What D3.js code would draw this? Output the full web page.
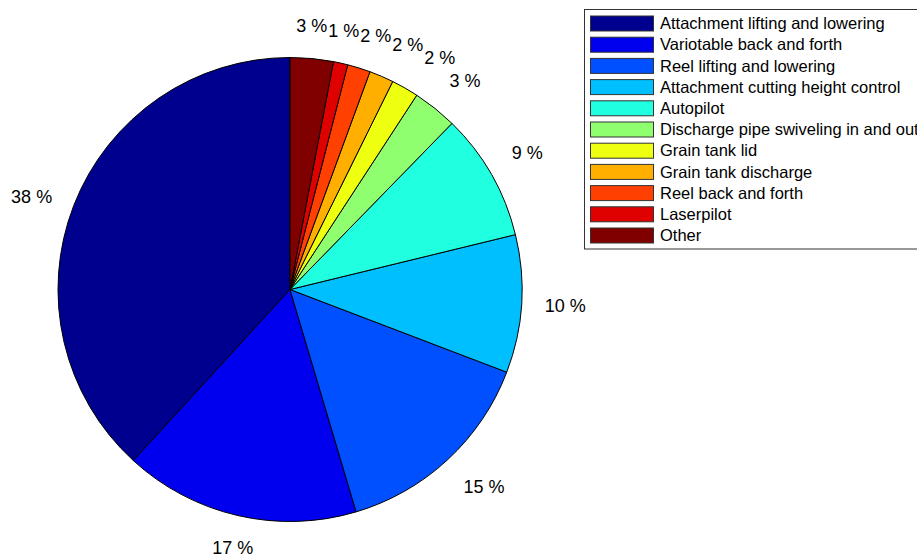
<!DOCTYPE html>
<html>
<head>
<meta charset="utf-8">
<script src="https://cdn.jsdelivr.net/npm/d3@7"></script>
<style>
  html, body { margin: 0; padding: 0; background: #fff; }
  svg { display: block; font-family: "Liberation Sans", Arial, Helvetica, sans-serif; }
</style>
</head>
<body>
<svg id="chart" width="917" height="556"></svg>
<script>
// Categories (legend order = slice order, counter-clockwise from 12 o'clock)
const categories = [
  "Attachment lifting and lowering",
  "Variotable back and forth",
  "Reel lifting and lowering",
  "Attachment cutting height control",
  "Autopilot",
  "Discharge pipe swiveling in and out",
  "Grain tank lid",
  "Grain tank discharge",
  "Reel back and forth",
  "Laserpilot",
  "Other"
];
// Slice shares (percent)
const values = [38.2, 16.4, 14.6, 9.6, 8.9, 3.1, 1.9, 1.7, 1.6, 1.0, 3.0];
// Percentage labels as printed on the chart
const pctLabels = ["38 %", "17 %", "15 %", "10 %", "9 %", "3 %", "2 %", "2 %", "2 %", "1 %", "3 %"];
// Jet colormap samples
const colors = ["#00008f", "#0000ef", "#0050ff", "#00bfff", "#20ffdf",
                "#8fff70", "#efff10", "#ffaf00", "#ff4000", "#df0000", "#800000"];

const svg = d3.select("#chart");
const cx = 290, cy = 289.5, r = 232;

const data = categories.map((c, i) => ({ name: c, value: values[i], label: pctLabels[i], color: colors[i] }));

const pie = d3.pie().sort(null).value(d => d.value).startAngle(0).endAngle(-2 * Math.PI);
const arcs = pie(data);
const arc = d3.arc().innerRadius(0).outerRadius(r);

const g = svg.append("g").attr("transform", `translate(${cx},${cy})`);
g.selectAll("path.slice")
  .data(arcs)
  .join("path")
  .attr("class", "slice")
  .attr("d", arc)
  .attr("fill", d => d.data.color)
  .attr("stroke", "#000")
  .attr("stroke-width", 1)
  .attr("stroke-linejoin", "round");

// Labels at 1.1 r
const fs = 18;
const lr = r * 1.1;
const labelSel = g.selectAll("text.pct")
  .data(arcs)
  .join("text")
  .attr("class", "pct")
  .attr("font-size", fs)
  .attr("fill", "#000")
  .text(d => d.data.label);

const boxes = [];
labelSel.each(function (d, i) {
  const m = (d.startAngle + d.endAngle) / 2;
  const xn = Math.sin(m), yn = Math.cos(m);
  const w = this.getComputedTextLength();
  let left;
  if (Math.abs(xn) < 0.25) left = lr * xn - w / 2;
  else if (xn > 0) left = lr * xn;
  else left = lr * xn - w;
  let dy;
  if (yn > 0.45) dy = -0.21 * fs;       // bottom aligned
  else if (yn < -0.45) dy = 0.9 * fs;   // top aligned
  else dy = 0.35 * fs;                  // middle
  const base = -lr * yn + dy;
  boxes.push({ el: this, left, w, top: base - 0.72 * fs, bottom: base, base });
});

// simple collision relaxation: push overlapping neighbours apart horizontally
for (let it = 0; it < 30; it++) {
  let moved = false;
  for (let i = 0; i < boxes.length; i++) {
    for (let j = 0; j < boxes.length; j++) {
      if (i === j) continue;
      const a = boxes[i], b = boxes[j];
      if (a.left > b.left) continue;
      const vOverlap = Math.min(a.bottom, b.bottom) - Math.max(a.top, b.top);
      const hOverlap = (a.left + a.w + 1) - b.left;
      if (vOverlap > 0 && hOverlap > 0) {
        a.left -= hOverlap / 2;
        b.left += hOverlap / 2;
        moved = true;
      }
    }
  }
  if (!moved) break;
}
boxes.forEach(b => d3.select(b.el).attr("x", b.left).attr("y", b.base).attr("text-anchor", "start"));

// Legend
const lfs = 16.5;
const lx = 584.5, ly = 9.5, pitch = 21.2, rowsTop = 23.5;
const legend = svg.append("g");
const box = legend.append("rect")
  .attr("x", lx).attr("y", ly)
  .attr("height", 239.5)
  .attr("fill", "#fff")
  .attr("stroke", "#333")
  .attr("stroke-width", 1);

const rows = legend.selectAll("g.row")
  .data(data)
  .join("g")
  .attr("class", "row")
  .attr("transform", (d, i) => `translate(0,${rowsTop + i * pitch})`);

rows.append("rect")
  .attr("x", 590.5).attr("y", -7.5)
  .attr("width", 63).attr("height", 15)
  .attr("fill", d => d.color)
  .attr("stroke", "#333")
  .attr("stroke-width", 1);

const texts = rows.append("text")
  .attr("x", 660)
  .attr("y", 0)
  .attr("dy", "0.35em")
  .attr("font-size", lfs)
  .attr("fill", "#000")
  .text(d => d.name);

let maxW = 0;
texts.each(function () { maxW = Math.max(maxW, this.getComputedTextLength()); });
box.attr("width", 660 + maxW + 8 - lx);
</script>
</body>
</html>
